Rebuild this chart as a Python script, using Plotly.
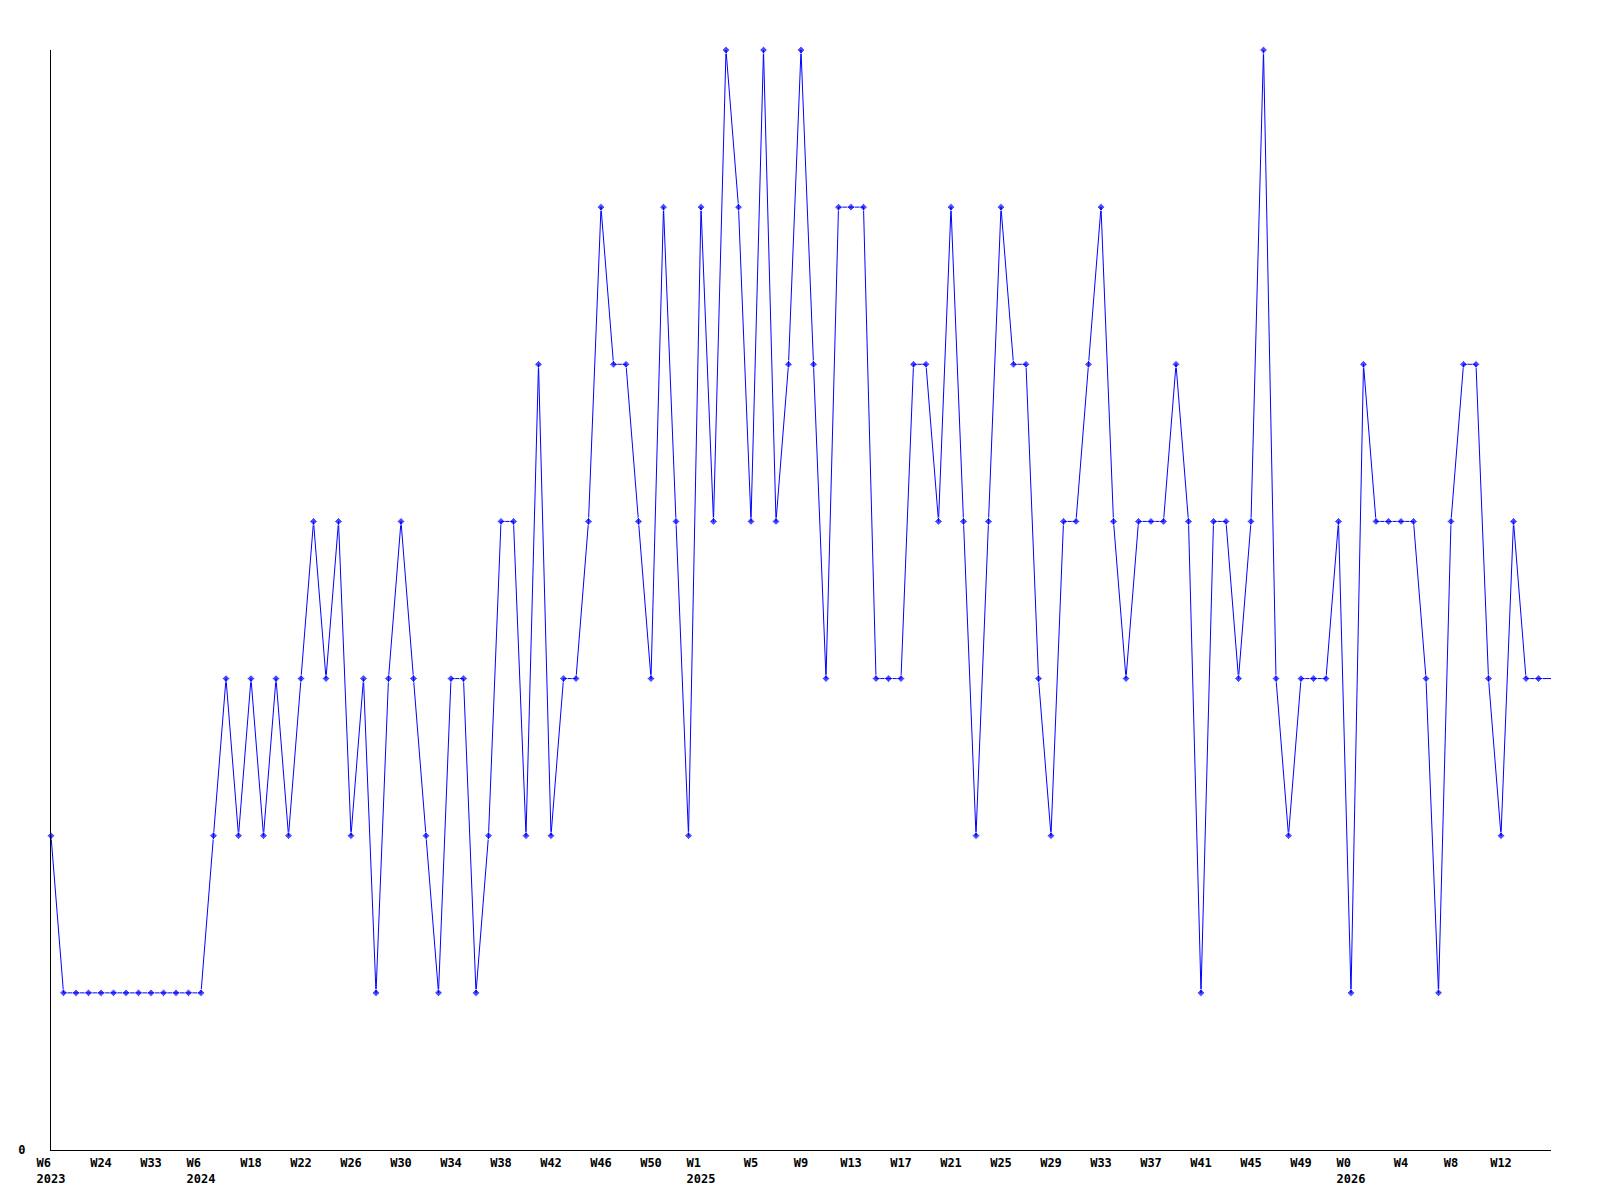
import plotly.graph_objects as go

# weekly counts, one point per sampled week (evenly spaced on the axis)
counts = [
    2, 1, 1, 1, 1, 1, 1, 1, 1, 1, 1, 1, 1, 2, 3, 2, 3, 2, 3, 2,
    3, 4, 3, 4, 2, 3, 1, 3, 4, 3, 2, 1, 3, 3, 1, 2, 4, 4, 2, 5,
    2, 3, 3, 4, 6, 5, 5, 4, 3, 6, 4, 2, 6, 4, 7, 6, 4, 7, 4, 5,
    7, 5, 3, 6, 6, 6, 3, 3, 3, 5, 5, 4, 6, 4, 2, 4, 6, 5, 5, 3,
    2, 4, 4, 5, 6, 4, 3, 4, 4, 4, 5, 4, 1, 4, 4, 3, 4, 7, 3, 2,
    3, 3, 3, 4, 1, 5, 4, 4, 4, 4, 3, 1, 4, 5, 5, 3, 2, 4, 3, 3,
    3,
]

# every 4th point is labelled; year shown under the first week of each year
tick_weeks = [
    "W6", "W24", "W33", "W6", "W18", "W22", "W26", "W30", "W34", "W38",
    "W42", "W46", "W50", "W1", "W5", "W9", "W13", "W17", "W21", "W25",
    "W29", "W33", "W37", "W41", "W45", "W49", "W0", "W4", "W8", "W12",
]
tick_years = {0: "2023", 3: "2024", 13: "2025", 26: "2026"}

NB = "\u00a0"
tick_text = []
for i, w in enumerate(tick_weeks):
    if i in tick_years:
        y = tick_years[i]
        # pad with nbsp so the week lines up left with the year (monospace)
        tick_text.append(w + NB * (len(y) - len(w)) + "<br>" + y)
    else:
        tick_text.append(w)
tick_vals = [4 * i for i in range(len(tick_weeks))]

x = list(range(len(counts)))
sizes = [6] * (len(counts) - 1) + [0]   # last point sits on the edge, no marker

fig = go.Figure(go.Scatter(
    x=x, y=counts, mode="lines+markers", cliponaxis=False,
    line=dict(color="#0000ff", width=1),
    marker=dict(symbol="diamond", size=sizes, color="#0000ff"),
    hoverinfo="skip"))

axis_font = dict(family="DejaVu Sans Mono", size=12, color="#000000", weight="bold")
fig.update_xaxes(range=[0, len(counts) - 1], tickvals=tick_vals, ticktext=tick_text,
                 showgrid=False, zeroline=False, showline=True, linecolor="#000000",
                 linewidth=1, ticks="", tickfont=axis_font, tickangle=0,
                 ticklabelstandoff=2, automargin=False)
fig.update_yaxes(range=[0, 7], tickvals=[0], ticktext=["0"], showgrid=False, zeroline=False,
                 showline=True, linecolor="#000000", linewidth=1, ticks="",
                 tickfont=axis_font, ticklabelstandoff=22, automargin=False)
# page body adds an 8px margin, so the figure is sized 16px short of the window
fig.update_layout(width=1584, height=1184, plot_bgcolor="#ffffff", paper_bgcolor="#ffffff",
                  showlegend=False, margin=dict(l=43, r=41, t=42, b=42))
fig.write_html("out.html")
